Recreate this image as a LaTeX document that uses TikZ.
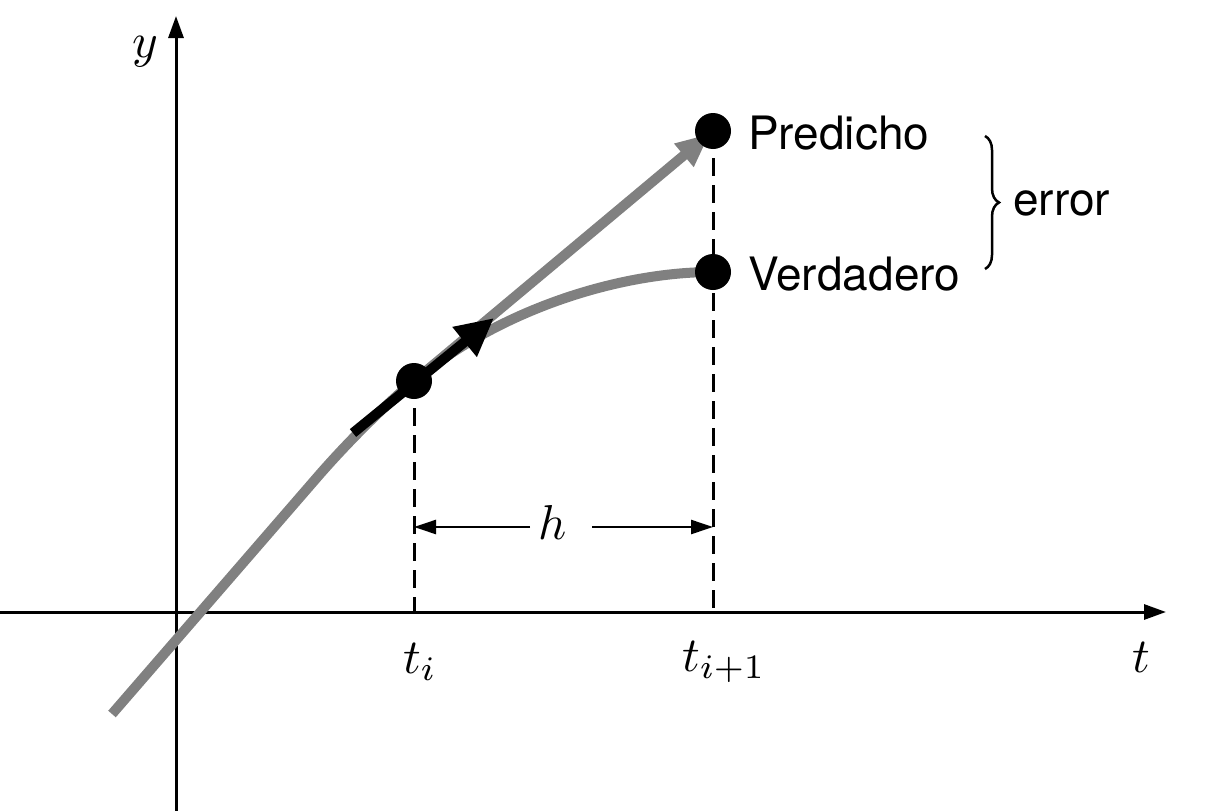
\documentclass[tikz,border=0pt]{standalone}
\usepackage{fontspec}
\setmainfont{TeX Gyre Heros}
\usetikzlibrary{arrows.meta,decorations.pathreplacing}
\newcommand{\mybigmath}[1]{\scalebox{4.9}{$#1$}}
\begin{document}
\begin{tikzpicture}[x=1pt,y=-1pt,
  axis/.style={line width=3pt,-{Triangle[length=22pt,width=15pt]}},
  guide/.style={line width=3pt,dash pattern=on 18pt off 9pt},
  graycurve/.style={line width=10pt,draw={rgb,255:red,128;green,128;blue,128}},
  dot/.style={circle,fill=black,minimum size=36pt,inner sep=0pt},
  lbl/.style={font=\fontsize{46}{54}\selectfont,anchor=west,inner sep=0pt},
  mathlbl/.style={inner sep=0pt},
  harrow/.style={line width=2.5pt,-{Triangle[length=22pt,width=14pt]}}]
\useasboundingbox (0,0) rectangle (1205,811);
% axes
\coordinate (yb) at (176,811);
\coordinate (yt) at (176,16);
\coordinate (xl) at (0,612);
\coordinate (xr) at (1166,612);
\draw[axis] (yb) -- (yt);
\draw[axis] (xl) -- (xr);
\node[mathlbl] (ylab) at (145,52) {\mybigmath{y}};
\node[mathlbl] (tlab) at (1141,657) {\mybigmath{t}};
% points
\coordinate (ti) at (414,381);
\coordinate (P) at (713,131);
\coordinate (V) at (713,272);
\coordinate (tiax) at (414,612);
\coordinate (tjax) at (713,612);
% dashed guides
\draw[guide] (ti) -- (tiax);
\draw[guide] (P) -- (tjax);
% gray curve
\coordinate (c0) at (112,714);
\coordinate (c1) at (320,474);
\draw[graycurve] (c0) -- (c1) .. controls (348,442) and (385,405) .. (ti)
  .. controls (500,309) and (620,272) .. (V);
% gray tangent
\draw[graycurve,-{Triangle[length=34pt,width=28pt]},shorten >=4pt] (ti) -- (P);
% black arrow
\coordinate (ba) at (353,433);
\coordinate (bb) at (494,318);
\draw[line width=10pt,-{Triangle[length=38pt,width=36pt]}] (ba) -- (bb);
% dots
\node[dot] (Ti) at (ti) {};
\node[dot] (Pd) at (P) {};
\node[dot] (Vd) at (V) {};
\node[lbl] (Plab) at (748,133) {Predicho};
\node[lbl] (Vlab) at (748,274) {Verdadero};
% brace
\coordinate (br1) at (985,136);
\coordinate (br2) at (985,269);
\draw[line width=2.5pt,decorate,decoration={brace,amplitude=14pt}] (br1) -- (br2);
\node[lbl] (err) at (1013,203) {error};
% h
\node[mathlbl] (hlab) at (553,522) {\mybigmath{h}};
\coordinate (hl) at (414,527);
\coordinate (hr) at (713,527);
\coordinate (ha) at (530,527);
\coordinate (hb) at (592,527);
\draw[harrow] (ha) -- (hl);
\draw[harrow] (hb) -- (hr);
% tick labels
\node[mathlbl] (tilab) at (420,662) {\mybigmath{t_i}};
\node[mathlbl] (tjlab) at (724,662) {\mybigmath{t_{i+1}}};
\end{tikzpicture}
\end{document}
